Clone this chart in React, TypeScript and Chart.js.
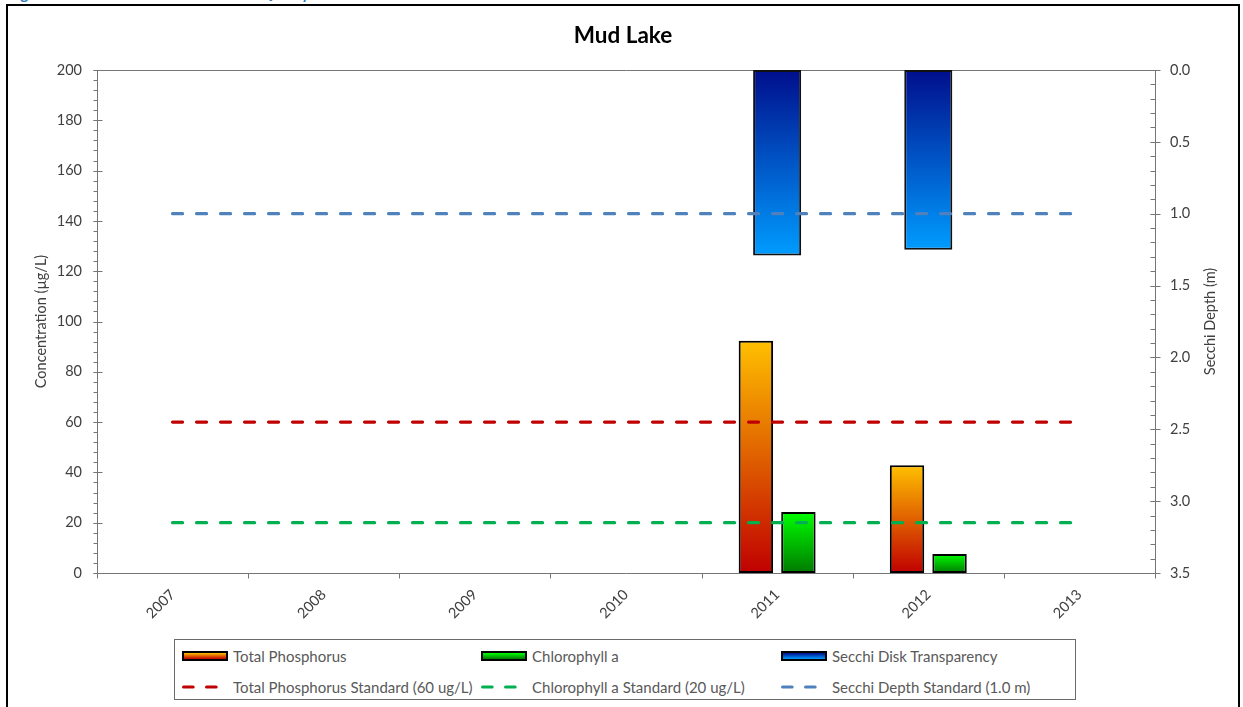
import React, { useEffect, useRef } from "react";
import { Chart, registerables } from "chart.js";

Chart.register(...registerables);

// ---- data ----
const years = ["2007", "2008", "2009", "2010", "2011", "2012", "2013"];
const totalPhosphorus = [null, null, null, null, 92.3, 42.8, null];
const chlorophyllA = [null, null, null, null, 24.3, 7.6, null];
const secchiDepth = [null, null, null, null, 1.29, 1.25, null];
const tpStandard = [60, 60, 60, 60, 60, 60, 60];
const chlStandard = [20, 20, 20, 20, 20, 20, 20];
const secchiStandard = [1.0, 1.0, 1.0, 1.0, 1.0, 1.0, 1.0];

const concentrationRange = [0, 200];
const concentrationStep = 20;
const concentrationMinorStep = 4;
const depthRange = [0, 3.5];
const depthStep = 0.5;
const depthMinorStep = 0.1;

const CHART_TITLE = "Mud Lake";
const LEFT_AXIS_TITLE = "Concentration (µg/L)";
const RIGHT_AXIS_TITLE = "Secchi Depth (m)";
const CAPTION = "Figure 12: Mud Lake Historical Water Quality";

// ---- styling ----
const FONT = "Lato, 'Open Sans', sans-serif";
const TICK_COLOR = "#404040";
const AXIS_COLOR = "#767676";
const TP_GRAD = ["#FFC000", "#C00000"];
const CHL_GRAD = ["#00FF00", "#007A00"];
const SECCHI_GRAD = ["#000E8C", "#009CFF"];
const TP_STD_COLOR = "#C00000";
const CHL_STD_COLOR = "#00B050";
const SECCHI_STD_COLOR = "#4F81BD";

function barGradient(ctx: any, axisId: string, values: (number | null)[], colors: string[]) {
  const chart = ctx.chart;
  const scale = chart.scales && chart.scales[axisId];
  if (ctx.type !== "data" || !scale || !chart.chartArea) return colors[0];
  const v = values[ctx.dataIndex];
  if (v == null) return colors[0];
  const yBase = scale.getPixelForValue(0);
  const yVal = scale.getPixelForValue(v);
  const g = chart.ctx.createLinearGradient(0, Math.min(yBase, yVal), 0, Math.max(yBase, yVal));
  g.addColorStop(0, colors[0]);
  g.addColorStop(1, colors[1]);
  return g;
}

// Axis frame with crossing major ticks, minor ticks and category ticks
const axisFrame = {
  id: "axisFrame",
  beforeDatasetsDraw(chart: any) {
    const { ctx, chartArea } = chart;
    const { left, right, top, bottom } = chartArea;
    const y = chart.scales.y;
    const y1 = chart.scales.y1;
    const x = chart.scales.x;
    ctx.save();
    ctx.strokeStyle = AXIS_COLOR;
    ctx.lineWidth = 1;
    ctx.beginPath();
    const L = Math.round(left) + 0.5;
    const R = Math.round(right) + 0.5;
    const T = Math.round(top) + 0.5;
    const B = Math.round(bottom) + 0.5;
    ctx.moveTo(L, T);
    ctx.lineTo(R, T);
    ctx.moveTo(L, T);
    ctx.lineTo(L, B);
    ctx.lineTo(R, B);
    ctx.moveTo(R, T);
    ctx.lineTo(R, B);
    // left axis ticks
    for (let v = concentrationRange[0]; v <= concentrationRange[1] + 1e-9; v += concentrationMinorStep) {
      const py = Math.round(y.getPixelForValue(v)) + 0.5;
      ctx.moveTo(L - 4, py);
      ctx.lineTo(L, py);
    }
    for (let v = concentrationRange[0]; v <= concentrationRange[1] + 1e-9; v += concentrationStep) {
      const py = Math.round(y.getPixelForValue(v)) + 0.5;
      ctx.moveTo(L - 4, py);
      ctx.lineTo(L + 5, py);
    }
    // right axis ticks
    for (let i = 0; i * depthMinorStep <= depthRange[1] + 1e-9; i++) {
      const py = Math.round(y1.getPixelForValue(i * depthMinorStep)) + 0.5;
      ctx.moveTo(R - 5, py);
      ctx.lineTo(R, py);
    }
    for (let i = 0; i * depthStep <= depthRange[1] + 1e-9; i++) {
      const py = Math.round(y1.getPixelForValue(i * depthStep)) + 0.5;
      ctx.moveTo(R - 5, py);
      ctx.lineTo(R + 5, py);
    }
    // category boundary ticks
    const n = years.length;
    for (let i = 0; i <= n; i++) {
      const px = Math.round(x.left + (i * (x.right - x.left)) / n) + 0.5;
      ctx.moveTo(px, B);
      ctx.lineTo(px, B + 5);
    }
    ctx.stroke();
    ctx.restore();
  },
  afterDraw(chart: any) {
    const { ctx, chartArea } = chart;
    const y1 = chart.scales.y1;
    ctx.save();
    ctx.fillStyle = TICK_COLOR;
    ctx.font = `14.5px ${FONT}`;
    ctx.textAlign = "center";
    ctx.textBaseline = "middle";
    ctx.translate(y1.right - 28, (chartArea.top + chartArea.bottom) / 2);
    ctx.rotate(-Math.PI / 2);
    ctx.fillText(RIGHT_AXIS_TITLE, 0, 0);
    ctx.restore();
  },
};

const tickFont = { family: FONT, size: 14.5 };

function buildConfig(): any {
  return {
    type: "bar",
    data: {
      labels: years,
      datasets: [
        {
          type: "line",
          label: "Total Phosphorus Standard (60 ug/L)",
          data: tpStandard,
          yAxisID: "y",
          borderColor: TP_STD_COLOR,
          borderWidth: 3.2,
          borderDash: [10, 14],
          borderCapStyle: "round",
          pointRadius: 0,
          fill: false,
          order: 0,
        },
        {
          type: "line",
          label: "Chlorophyll a Standard (20 ug/L)",
          data: chlStandard,
          yAxisID: "y",
          borderColor: CHL_STD_COLOR,
          borderWidth: 3.2,
          borderDash: [10, 14],
          borderCapStyle: "round",
          pointRadius: 0,
          fill: false,
          order: 0,
        },
        {
          type: "line",
          label: "Secchi Depth Standard (1.0 m)",
          data: secchiStandard,
          yAxisID: "y1",
          borderColor: SECCHI_STD_COLOR,
          borderWidth: 3.2,
          borderDash: [10, 14],
          borderCapStyle: "round",
          pointRadius: 0,
          fill: false,
          order: 0,
        },
        {
          label: "Total Phosphorus",
          data: totalPhosphorus,
          yAxisID: "y",
          backgroundColor: (c: any) => barGradient(c, "y", totalPhosphorus, TP_GRAD),
          borderColor: "#000",
          borderWidth: 2,
          borderSkipped: false,
          categoryPercentage: 0.5625,
          barPercentage: 0.81,
          order: 1,
        },
        {
          label: "Chlorophyll a",
          data: chlorophyllA,
          yAxisID: "y",
          backgroundColor: (c: any) => barGradient(c, "y", chlorophyllA, CHL_GRAD),
          borderColor: "#000",
          borderWidth: 2,
          borderSkipped: false,
          categoryPercentage: 0.5625,
          barPercentage: 0.81,
          order: 1,
        },
        {
          label: "Secchi Disk Transparency",
          data: secchiDepth,
          yAxisID: "y1",
          grouped: false,
          backgroundColor: (c: any) => barGradient(c, "y1", secchiDepth, SECCHI_GRAD),
          borderColor: "#111",
          borderWidth: 2,
          borderSkipped: false,
          categoryPercentage: 1,
          barPercentage: 0.318,
          order: 2,
        },
      ],
    },
    options: {
      responsive: false,
      animation: false,
      devicePixelRatio: 1,
      layout: { padding: 0 },
      plugins: {
        legend: { display: false },
        tooltip: { enabled: false },
        title: {
          display: true,
          text: CHART_TITLE,
          color: "#000",
          font: { family: FONT, size: 22.5, weight: "bold", lineHeight: 1.2 },
          padding: { top: 16.5, bottom: 20.5 },
        },
      },
      scales: {
        x: {
          offset: true,
          grid: { display: false, drawTicks: false },
          border: { display: false },
          ticks: {
            color: TICK_COLOR,
            font: tickFont,
            minRotation: 45,
            maxRotation: 45,
            padding: 13,
          },
          afterFit: (s: any) => {
            s.height = 59;
          },
        },
        y: {
          position: "left",
          min: concentrationRange[0],
          max: concentrationRange[1],
          grid: { display: false, drawTicks: false },
          border: { display: false },
          ticks: { stepSize: concentrationStep, color: TICK_COLOR, font: tickFont, padding: 15 },
          title: {
            display: true,
            text: LEFT_AXIS_TITLE,
            color: TICK_COLOR,
            font: { family: FONT, size: 14.5, lineHeight: 1.2 },
            padding: { top: 25, bottom: 0 },
          },
          afterFit: (s: any) => {
            s.width = 89;
          },
        },
        y1: {
          position: "right",
          reverse: true,
          min: depthRange[0],
          max: depthRange[1],
          grid: { display: false, drawTicks: false },
          border: { display: false },
          ticks: {
            stepSize: depthStep,
            color: TICK_COLOR,
            font: tickFont,
            padding: 15,
            callback: (v: any) => Number(v).toFixed(1),
          },
          afterFit: (s: any) => {
            s.width = 83;
          },
        },
      },
    },
    plugins: [axisFrame],
  };
}

type LegendItem = { label: string; kind: "bar" | "dash"; colors: string[] };
const legendRows: LegendItem[][] = [
  [
    { label: "Total Phosphorus", kind: "bar", colors: TP_GRAD },
    { label: "Chlorophyll a", kind: "bar", colors: CHL_GRAD },
    { label: "Secchi Disk Transparency", kind: "bar", colors: SECCHI_GRAD },
  ],
  [
    { label: "Total Phosphorus Standard (60 ug/L)", kind: "dash", colors: [TP_STD_COLOR] },
    { label: "Chlorophyll a Standard (20 ug/L)", kind: "dash", colors: [CHL_STD_COLOR] },
    { label: "Secchi Depth Standard (1.0 m)", kind: "dash", colors: [SECCHI_STD_COLOR] },
  ],
];
const legendColumns = [7, 306, 606];
const legendRowCenters = [16, 47];

function Swatch({ item }: { item: LegendItem }) {
  if (item.kind === "bar") {
    return (
      <div
        style={{
          width: 46,
          height: 10,
          boxSizing: "border-box",
          border: "2px solid #000",
          background: `linear-gradient(to bottom, ${item.colors[0]}, ${item.colors[1]})`,
        }}
      />
    );
  }
  return (
    <svg width={46} height={10} style={{ display: "block" }}>
      <line
        x1={1.6}
        y1={5}
        x2={44}
        y2={5}
        stroke={item.colors[0]}
        strokeWidth={3.2}
        strokeLinecap="round"
        strokeDasharray="9.5 13.5"
      />
    </svg>
  );
}

export default function App() {
  const canvasRef = useRef<HTMLCanvasElement>(null);

  useEffect(() => {
    if (!canvasRef.current) return;
    const chart = new Chart(canvasRef.current, buildConfig());
    return () => chart.destroy();
  }, []);

  return (
    <div
      style={{
        position: "absolute",
        left: 0,
        top: 0,
        width: 1243,
        height: 707,
        overflow: "hidden",
        background: "#fff",
        fontFamily: FONT,
      }}
    >
      <div style={{ position: "absolute", left: 0, top: 0, width: 1243, height: 4, overflow: "hidden" }}>
        <div
          style={{
            position: "absolute",
            left: 8,
            top: -14,
            fontSize: 15,
            lineHeight: "15px",
            fontWeight: "bold",
            color: "#2E75B6",
            whiteSpace: "nowrap",
          }}
        >
          {CAPTION}
        </div>
      </div>
      <div
        style={{
          position: "absolute",
          left: 6,
          top: 4,
          width: 1234,
          height: 730,
          border: "2px solid #000",
          boxSizing: "border-box",
        }}
      />
      <canvas
        ref={canvasRef}
        width={1230}
        height={626}
        style={{ position: "absolute", left: 8, top: 6, width: 1230, height: 626 }}
      />
      <div
        style={{
          position: "absolute",
          left: 174,
          top: 639,
          width: 902,
          height: 61,
          boxSizing: "border-box",
          border: "1px solid #6b6b6b",
          background: "#fff",
        }}
      >
        {legendRows.map((row, r) =>
          row.map((item, c) => (
            <div
              key={`${r}-${c}`}
              style={{
                position: "absolute",
                left: legendColumns[c],
                top: legendRowCenters[r] - 10,
                height: 20,
                display: "flex",
                alignItems: "center",
                whiteSpace: "nowrap",
              }}
            >
              <Swatch item={item} />
              <span style={{ marginLeft: 5, fontSize: 15, color: "#595959" }}>{item.label}</span>
            </div>
          ))
        )}
      </div>
    </div>
  );
}
